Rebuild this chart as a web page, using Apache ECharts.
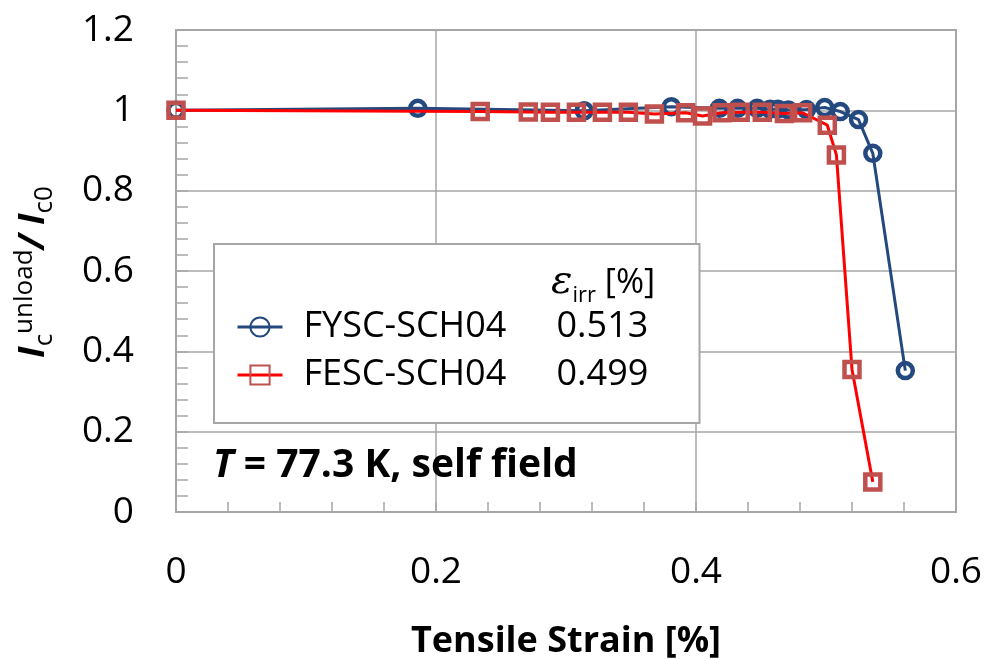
<!DOCTYPE html>
<html><head><meta charset="utf-8">
<script src="https://cdn.jsdelivr.net/npm/echarts@6/dist/echarts.min.js"></script>
<style>html,body{margin:0;padding:0;background:#fff}#c{width:991px;height:659px}</style>
</head><body><div id="c"></div>
<script>
const seriesNames = ['FYSC-SCH04', 'FESC-SCH04'];
const irrValues = ['0.513', '0.499'];
const strainFY = [0, 0.186, 0.314, 0.381, 0.418, 0.432, 0.447, 0.457, 0.463, 0.471, 0.485, 0.499, 0.511, 0.525, 0.536, 0.561];
const icFY =     [1.000, 1.005, 0.999, 1.009, 1.005, 1.005, 1.005, 1.003, 1.003, 1.001, 1.002, 1.007, 0.997, 0.977, 0.893, 0.352];
const strainFE = [0, 0.234, 0.271, 0.288, 0.308, 0.328, 0.348, 0.368, 0.392, 0.405, 0.420, 0.434, 0.451, 0.468, 0.482, 0.501, 0.508, 0.520, 0.536];
const icFE =     [1.000, 0.997, 0.996, 0.995, 0.995, 0.995, 0.995, 0.991, 0.994, 0.986, 0.994, 0.995, 0.995, 0.992, 0.994, 0.963, 0.889, 0.355, 0.075];
const xTicks = [0, 0.2, 0.4, 0.6];
const yTicks = [0, 0.2, 0.4, 0.6, 0.8, 1.0, 1.2];

const FONT = "'Open Sans', 'Noto Sans', sans-serif";
const GRAY = '#a6a6a6';
const BLUE = '#24497f';
const RED_LINE = '#ff0000';
const RED_MK = '#c0504d';

const chart = echarts.init(document.getElementById('c'), null, {renderer: 'canvas'});
chart.setOption({
  animation: false,
  backgroundColor: '#fff',
  grid: {left: 176, right: 35, top: 30, bottom: 147, show: true, borderColor: GRAY, borderWidth: 2, backgroundColor: 'transparent', containLabel: false, outerBoundsMode: 'none'},
  xAxis: {
    type: 'value', min: xTicks[0], max: xTicks[xTicks.length - 1], interval: xTicks[1] - xTicks[0],
    name: 'Tensile Strain [%]', nameLocation: 'middle', nameGap: 112,
    nameTextStyle: {fontFamily: FONT, fontSize: 36, fontWeight: 'bold', color: '#000'},
    axisLine: {show: true, lineStyle: {color: GRAY, width: 2}},
    axisTick: {show: true, inside: true, length: 10, lineStyle: {color: GRAY, width: 1.5}},
    minorTick: {show: true, splitNumber: 5, length: 10, lineStyle: {color: GRAY, width: 1.5}},
    splitLine: {show: true, lineStyle: {color: GRAY, width: 1.5}},
    axisLabel: {fontFamily: FONT, fontSize: 37, color: '#000', margin: 42}
  },
  yAxis: {
    type: 'value', min: yTicks[0], max: yTicks[yTicks.length - 1], interval: yTicks[1] - yTicks[0],
    axisLine: {show: true, lineStyle: {color: GRAY, width: 2}},
    axisTick: {show: true, inside: true, length: 12, lineStyle: {color: GRAY, width: 1.5}},
    minorTick: {show: true, splitNumber: 5, length: 12, lineStyle: {color: GRAY, width: 1.5}},
    splitLine: {show: true, lineStyle: {color: GRAY, width: 1.5}},
    axisLabel: {fontFamily: FONT, fontSize: 37, color: '#000', margin: 42, padding: [6, 0, 0, 0]}
  },
  legend: {
    show: true, orient: 'vertical', left: 214, top: 244,
    itemWidth: 45, itemHeight: 24, itemGap: 8,
    padding: [63, 43, 28, 22],
    backgroundColor: '#fff', borderColor: GRAY, borderWidth: 2,
    lineStyle: {width: 3},
    data: seriesNames,
    formatter: function (name) { return '{n|' + name + '}{v|' + irrValues[seriesNames.indexOf(name)] + '}'; },
    textStyle: {
      fontFamily: FONT, fontSize: 36, color: '#000', lineHeight: 40,
      rich: {
        n: {fontFamily: FONT, fontSize: 36, color: '#000', width: 253, padding: [0, 0, 0, 16], lineHeight: 40},
        v: {fontFamily: FONT, fontSize: 36, color: '#000', width: 100, lineHeight: 40}
      }
    },
    z: 5
  },
  graphic: [
    {
      type: 'text', x: 34, y: 272, rotation: Math.PI / 2, z: 10,
      style: {
        text: '{i|I}{sub|c}{sup|unload}{i|/ I}{sub|c0}',
        textAlign: 'center', textVerticalAlign: 'middle', align: 'center', verticalAlign: 'middle', fill: '#000',
        rich: {
          i: {fontFamily: FONT, fontSize: 36, fontWeight: 'bold', fontStyle: 'italic', lineHeight: 40, fill: '#000'},
          sub: {fontFamily: FONT, fontSize: 26, lineHeight: 26, padding: [22, 0, 0, 0], fill: '#000'},
          sup: {fontFamily: FONT, fontSize: 26, lineHeight: 26, padding: [0, 0, 18, 0], fill: '#000'}
        }
      }
    },
    {
      type: 'text', x: 551, y: 283, z: 10,
      style: {
        text: '{e|ε}{s|irr}{b| [%]}',
        textVerticalAlign: 'middle', verticalAlign: 'middle', fill: '#000',
        rich: {
          e: {fontFamily: "'DejaVu Serif', serif", fontSize: 40, fontStyle: 'italic', lineHeight: 40, fill: '#000'},
          s: {fontFamily: FONT, fontSize: 22, lineHeight: 24, padding: [25, 0, 0, 0], fill: '#000'},
          b: {fontFamily: FONT, fontSize: 34, lineHeight: 40, fill: '#000'}
        }
      }
    },
    {
      type: 'text', x: 213, y: 466, z: 10,
      style: {
        text: '{t|T}{b| = 77.3 K, self field}',
        textVerticalAlign: 'middle', verticalAlign: 'middle', fill: '#000',
        rich: {
          t: {fontFamily: FONT, fontSize: 39, fontWeight: 'bold', fontStyle: 'italic', fill: '#000'},
          b: {fontFamily: FONT, fontSize: 39, fontWeight: 'bold', fill: '#000'}
        }
      }
    }
  ],
  series: [
    {
      type: 'line', name: seriesNames[0], z: 2,
      data: strainFY.map((x, i) => [x, icFY[i]]),
      symbol: 'circle', symbolSize: 15,
      lineStyle: {color: BLUE, width: 3},
      itemStyle: {color: 'rgba(255,255,255,0)', borderColor: BLUE, borderWidth: 4.5},
      emphasis: {disabled: true}
    },
    {
      type: 'line', name: seriesNames[1], z: 3,
      data: strainFE.map((x, i) => [x, icFE[i]]),
      symbol: 'rect', symbolSize: 15,
      lineStyle: {color: RED_LINE, width: 3},
      itemStyle: {color: 'rgba(255,255,255,0)', borderColor: RED_MK, borderWidth: 4.5},
      emphasis: {disabled: true}
    }
  ]
});
</script></body></html>
